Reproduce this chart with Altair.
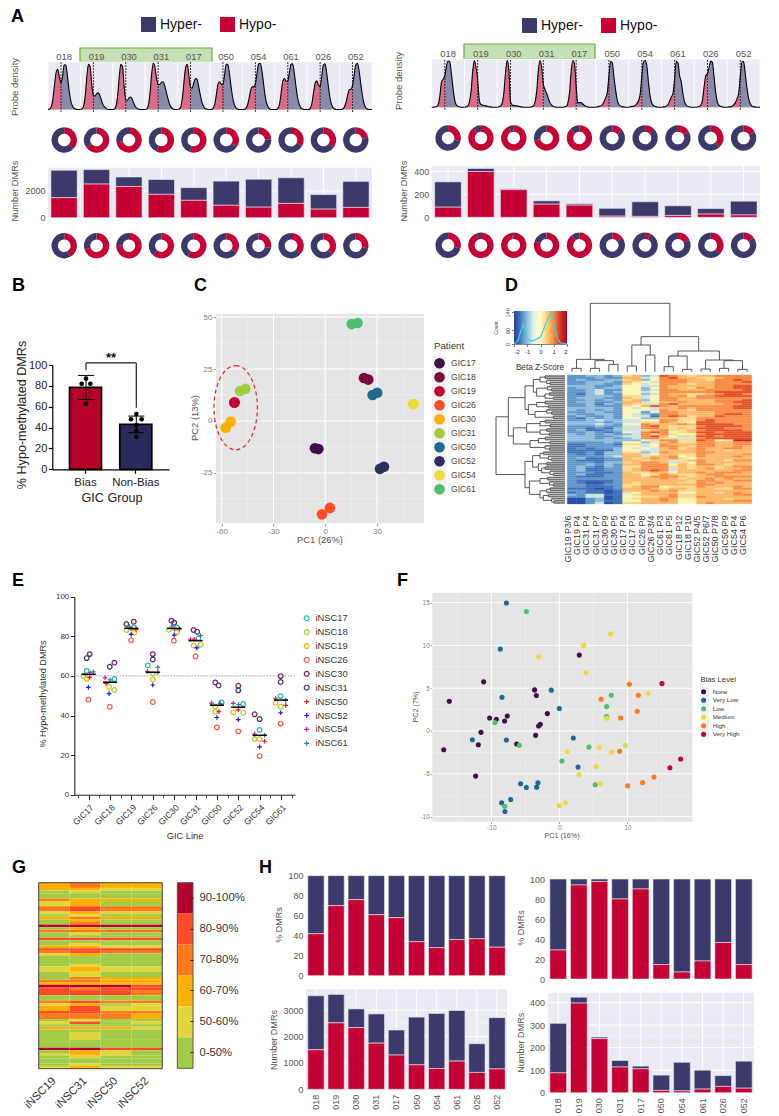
import altair as alt

W, H = 763, 1106
FONT = "Liberation Sans"

# ---------------- data ----------------
LINES = ["018", "019", "030", "031", "017", "050", "054", "061", "026", "052"]
HYPER, HYPO = "Hyper-", "Hypo-"
C_HYPER, C_HYPO = "#3c3a6b", "#c40035"
C_BG = "#eaeaf2"

DENS_L = [
 [0,.01,.06,.22,.52,.8,.87,.7,.58,.72,.97,.96,.72,.42,.2,.08,.03,.01,0,0,0],
 [0,.01,.08,.3,.72,.98,.92,.55,.31,.29,.34,.36,.3,.2,.1,.05,.02,0,0,0,0],
 [0,.01,.08,.3,.72,.98,.93,.5,.2,.2,.25,.27,.22,.13,.06,.02,.01,0,0,0,0],
 [0,.01,.1,.36,.78,1,.92,.68,.54,.54,.59,.6,.52,.38,.24,.12,.05,.02,0,0,0],
 [0,.01,.06,.26,.62,.92,.98,.72,.48,.46,.58,.67,.65,.5,.32,.16,.07,.02,.01,0,0],
 [0,0,.03,.12,.34,.56,.6,.54,.55,.75,.98,.98,.78,.5,.26,.11,.04,.01,0,0,0],
 [0,0,.02,.08,.22,.4,.49,.49,.55,.78,.98,1,.85,.58,.3,.13,.05,.01,0,0,0],
 [0,0,.03,.13,.38,.62,.67,.61,.62,.8,.98,.99,.8,.52,.27,.12,.04,.01,0,0,0],
 [0,0,.03,.15,.38,.58,.62,.52,.5,.72,.96,.99,.8,.52,.27,.11,.04,.01,0,0,0],
 [0,0,.01,.06,.16,.32,.43,.44,.52,.75,.97,1,.84,.58,.32,.14,.05,.01,0,0,0],
]
DENS_R = [
 [0,0,.01,.02,.06,.25,.55,.6,.68,.88,.99,.97,.72,.4,.16,.05,.02,.01,0,0,0],
 [0,.01,.03,.12,.35,.78,1,.85,.6,.15,.06,.05,.04,.03,.02,.01,.01,0,0,0,0],
 [0,.01,.03,.1,.32,.75,1,.8,.12,.05,.04,.03,.03,.02,.01,.01,0,0,0,0,0],
 [0,.01,.03,.12,.35,.8,1,.85,.5,.38,.3,.2,.1,.05,.02,.01,0,0,0,0,0],
 [0,.01,.02,.1,.32,.78,1,.92,.45,.09,.1,.1,.07,.04,.02,.01,0,0,0,0,0],
 [0,.01,.02,.03,.06,.12,.2,.32,.68,.98,.95,.65,.38,.16,.06,.03,.01,.01,0,0,0],
 [0,.01,.02,.02,.04,.08,.14,.28,.66,.97,1,.9,.55,.25,.1,.04,.02,.01,0,0,0],
 [0,.01,.01,.03,.06,.14,.22,.3,.62,.98,.95,.68,.55,.3,.12,.05,.02,.01,0,0,0],
 [0,0,.01,.02,.05,.16,.45,.68,.72,.85,.99,.96,.65,.32,.12,.04,.02,.01,0,0,0],
 [0,.01,.01,.02,.05,.1,.18,.3,.66,.97,.98,.72,.42,.2,.08,.03,.01,.01,0,0,0],
]
DONUT_TOP_L = [.37,.65,.72,.56,.55,.34,.24,.33,.35,.22]
DONUT_TOP_R = [.29,.9,.93,.72,.87,.15,.12,.17,.38,.17]
PCT_HYPO_L = [42,70,76,61,58,34,28,36,37,28.5]
PCT_HYPO_R = [29,94,97.5,80,90,14.5,7,18,36.5,14.5]
TOTAL_L = [3550,3600,3050,2860,2250,2740,2880,2990,1730,2720]
HYPO_L = [1500,2520,2340,1750,1300,930,790,1070,640,770]
TOTAL_R = [308,424,247,143,118,78,135,100,76,140]
HYPO_R = [88,398,240,114,106,10,8,16,28,20]

B_GROUPS = ["Bias", "Non-Bias"]
B_MEANS = [78.5, 43]
B_ERR_LOW = [67, 35]
B_ERR_HIGH = [90, 51]
B_POINT_X = [0, -.086, .086, 0, 1, .894, 1.106, 1, 1, 1]
B_POINT_Y = [87, 82, 82, 63, 53, 48, 48, 42.5, 37, 31]

PATIENTS = ["GIC17","GIC18","GIC19","GIC26","GIC30","GIC31","GIC50","GIC52","GIC54","GIC61"]
PATIENT_COLORS = ["#3f0f45","#7b0a3a","#c3002f","#ff4b26","#ffb000","#a2cc3e","#1c6a8e","#2f2f5f","#eedb3a","#4cc070"]
C_X = [[-6,-4],[22.4,24.9],[-52.7,-52.5],[2.7,-1.9],[-54.8,-57.7],[-49.4,-46.3],[27.4,30.1],[34,31.7],[51,51.2],[15.3,18.7]]
C_Y = [[-13.1,-13.5],[20.7,19.9],[8.8,9],[-41.8,-44.9],[-.3,-3.2],[14.4,15.5],[12.5,13.6],[-22,-23],[8,8.2],[46.6,47.1]]

D_COLS = ["GIC19 P3/6","GIC19 P4","GIC31 P4","GIC31 P7","GIC30 P9","GIC30 P5","GIC17 P4","GIC17 P3","GIC26 P8","GIC26 P3/4",
          "GIC61 P3","GIC61 P5","GIC18 P12","GIC18 P10","GIC52 P4/5","GIC52 P6/7","GIC50 P7/8","GIC50 P9","GIC54 P4","GIC54 P6"]
D_ROWS = """223323 67 34 98 76 77 88 88
222322 77 45 89 77 66 78 88
232233 67 35 88 87 76 88 98
223332 76 54 88 87 77 88 89
223322 65 45 88 76 77 88 88
333223 55 44 87 77 77 88 99
233233 55 35 87 76 87 88 99
223422 55 34 88 77 78 88 89
223423 55 45 88 88 88 99 99
213422 55 34 87 76 67 89 98
223332 66 45 87 86 88 99 99
233322 76 45 88 77 88 88 88
223232 67 35 88 77 77 88 89
233223 77 45 77 87 77 88 99
223132 76 64 89 77 77 78 89
223222 65 79 87 88 88 88 99
333332 54 54 77 87 88 88 99
323232 55 54 87 76 88 88 88
223322 55 25 88 77 77 88 88
322332 54 32 88 77 77 89 98
232232 54 41 89 86 77 98 88
213232 55 33 77 66 88 88 88
223433 44 55 88 66 89 88 88
333323 44 66 87 65 99 88 88
333432 55 87 77 87 99 99 88
222322 44 89 76 66 89 99 98
221213 44 88 76 76 99 98 88
231123 44 67 86 67 89 99 98
223212 54 89 85 67 99 89 99
323232 34 86 86 55 89 99 99
333223 44 89 75 66 99 89 99
333232 34 88 64 44 89 99 99
333333 33 56 88 66 98 56 aa
222232 55 34 78 66 88 77 88
112221 66 45 87 77 88 77 88
112222 55 45 88 76 88 77 87
121223 54 54 78 67 87 78 87
111113 55 44 77 77 87 76 77
112133 66 34 87 77 88 77 77
212133 77 45 77 66 87 77 78
222234 77 67 78 56 87 77 87
231122 76 78 78 65 77 77 77
211122 77 67 74 67 87 76 88
222133 67 88 74 65 87 77 77
223232 77 88 85 76 88 76 77
232132 66 88 86 76 77 67 88
231122 67 88 84 76 78 67 78
231122 67 89 84 77 77 77 88
222112 76 67 75 77 87 88 87
231122 77 56 87 66 78 87 77
211122 77 68 88 76 77 88 88
222222 77 77 87 67 78 78 77
211112 77 77 77 76 88 77 88
210012 76 77 77 66 87 87 77
221122 66 77 77 77 88 77 77
221112 67 88 56 66 87 77 87
111012 77 87 67 76 77 66 88
221101 77 78 78 66 77 77 77
121101 45 77 77 55 77 67 87
324411 56 77 78 66 77 77 88
224401 55 66 78 66 87 77 77
002301 56 77 87 55 77 76 77
002311 55 77 87 55 77 77 88
002401 66 77 77 55 78 77 77""".split("\n")
D_LEVELS = list("0123456789a")
D_COLORS = ["#2c4fa8","#3f72b8","#5f97cb","#8fbbdc","#cfe3e0","#fbf6b5","#fdd98c","#fdb868","#f98d45","#e4502a","#c52a1e"]
D_COL_TREE = [100,
 [268,[295,0,0],[272,[295,0,0],[283,0,0]]],
 [200,[225,[288,0,0],[255,0,0]],
      [243,[258,[290,0,0],[298,0,0]],
           [270,[297,0,0],[272,[295,0,0],[298,0,0]]]]]]
D_ROW_TREE = [18,
 [55,
  [105,
   [130,[150,[165,0,0],[170,0,[180,0,0]]],[140,[172,0,[185,0,0]],[165,[178,0,0],[190,0,0]]]],
   [115,[140,[165,0,0],[175,0,0]],[135,[170,0,[185,0,0]],[190,0,0]]]],
  [70,
   [110,[150,[165,0,0],[180,0,0]],[150,[170,0,0],[178,0,0]]],
   [120,[145,[165,0,0],[180,0,0]],[165,0,[178,0,0]]]]],
 [105,
  [128,
   [150,[160,0,0],[175,0,[185,0,0]]],
   [145,[170,0,0],[155,[165,0,0],[180,0,[190,0,0]]]]],
  [118,
   [150,[172,0,0],[178,0,[190,0,0]]],
   [150,[170,[180,0,0],0],[160,[175,0,0],[185,0,[192,0,0]]]]]]]
HIST_Z = [-2,-1.9,-1.7,-1.5,-1.3,-1.15,-1,-.8,-.5,-.2,0,.2,.4,.6,.8,.95,1.1,1.3,1.5,2]
HIST_N = [0,5,15,55,88,60,30,15,15,25,30,60,90,115,140,110,60,20,5,0]

E_LINES = ["iNSC17","iNSC18","iNSC19","iNSC26","iNSC30","iNSC31","iNSC50","iNSC52","iNSC54","iNSC61"]
E_COLORS = ["#22b5a8","#a6d13e","#f7b500","#f9573c","#8e1b5c","#3d3375","#e8112d","#1a1aee","#d01c8b","#2a7f9e"]
E_VALUES = [
 [62.5,58.4,84.5,65.3,84.5,79,46.6,45.8,32.7,49.8],
 [60,52.9,83.2,61.3,83.3,75.8,41.9,41.4,28,44.4],
 [58.5,54.5,81.8,58.2,82,75.3,44.4,41.6,28,46.5],
 [48,44.4,78,46.8,77.8,69.9,34,32,19.5,35.9],
 [71,66.7,87.4,71,87.9,83.2,56.7,55,40.6,59.9],
 [69,64.6,86.2,68.3,86.9,82.3,55.2,52.7,38.2,56.9],
 [59.3,56.2,83.5,61.8,83.7,78.5,42,42.8,27,45.1],
 [54.2,51,81,55.4,80.6,74.2,39,37.9,24.2,41.4],
 [61.6,59,83.8,62.3,83.8,78.5,46.3,46.1,30.6,48.7],
 [62,58,84.8,64.3,85.2,80.3,46.1,45.5,30,47.6],
]
E_JITTER = [
 [-6,13,8,-15,8,9,14,15,0,-1],
 [-16,13,-15,0,-16,15,-5,15,-15,-1],
 [-6,-3,8,0,8,-6,-5,-15,0,-16],
 [-1,-1,-1,0,-1,0,0,0,0,-1],
 [3,13,7,0,-8,-6,-5,0,-15,-1],
 [-6,-1,-15,0,0,5,5,0,0,-1],
 [3,-12,14,15,16,-4,6,0,15,14],
 [-1,-3,-1,0,0,4,0,0,0,-1],
 [4,-15,-1,-16,0,-15,-16,-15,-15,-16],
 [14,0,-6,15,-7,15,10,1,15,14],
]
E_MEANS = [60.8,56.8,84,61.8,84,77.8,45.2,44.2,30,47.8]

F_LEVELS = ["None","Very Low","Low","Medium","High","Very High"]
F_COLORS = ["#3f0f45","#1c6a8e","#4cc070","#eedb3a","#ff7a1a","#c3002f"]
F_POINTS = {
 "None": [(-17,-2.19),(-16.18,3.48),(-11.13,5.74),(-10.25,1.52),(-9.26,1.37),(-11.52,-.16),(-11.91,-1.6),(-12.3,-5.27),(-6.27,-1.52),(-8.04,1.17),(-7.65,1.76),(-3.63,4.8),(-3.38,4.14),(-1.76,2.03),(-2.79,.78),(-3.04,.59),(-3.48,-.51),(2.94,8.87)],
 "Very Low": [(-7.79,14.96),(-8.68,9.57),(-8.43,3.95),(-12.79,-1.02),(-7.79,-1.05),(-1.18,4.77),(0,2.62),(2.06,-.82),(2.75,-4.22),(-5.69,-6.17),(-4.85,-6.6),(-3.33,-6.56),(-3.14,-6.05),(-7.16,-8),(-8.48,-8.4),(-7.99,-9.41)],
 "Low": [(-4.85,13.95),(-9.46,.98),(-5.88,-1.68),(-8.04,-8.79),(.39,-3.52),(4.36,-1.88),(5.29,-6.29),(6.96,2.85),(6.96,1.68),(7.65,4.18)],
 "Medium": [(7.55,11.33),(3.58,10),(-3.04,8.67),(3.92,6.84),(13.04,4.41),(7.01,1.48),(1.13,-2.42),(5.88,-1.91),(7.7,-2.46),(9.71,-1.68),(5.44,-4.18),(2.89,-5.12),(6.03,-6.13),(.88,-8.4),(0,-8.71)],
 "High": [(10.29,5.47),(11.62,4.18),(6.13,3.71),(11.47,2.3),(9.02,1.52),(8.87,-2.38),(10.05,-6.41),(12.25,-6.02),(13.92,-5.39)],
 "Very High": [(15.1,5.55),(17.84,-3.28),(16.27,-4.3)],
}

G_COLS = ["iNSC19","iNSC31","iNSC50","iNSC52"]
G_BINS = ["90-100%","80-90%","70-80%","60-70%","50-60%","0-50%"]
G_COLORS = ["#b2002d","#ff4b26","#ff7a1a","#ffb000","#e3d63a","#a2cc45"]
G_RUNS = [(2,"2322"),(1,"2211"),(1,"0100"),(2,"0000"),(1,"3222"),(2,"1200"),(2,"3433"),(1,"1211"),(1,"0100"),(1,"2322"),
 (1,"0200"),(1,"0300"),(1,"5555"),(1,"0200"),(1,"3333"),(1,"0100"),(1,"0000"),(1,"4444"),(1,"0000"),(1,"0100"),(1,"2211"),
 (1,"4444"),(1,"3433"),(1,"1200"),(3,"0000"),(1,"0100"),(2,"1211"),(2,"0100"),(1,"0322"),(1,"3322"),(1,"2222"),(1,"5554"),
 (1,"4344"),(2,"4443"),(2,"0000"),(1,"3433"),(1,"1201"),(2,"2411"),(1,"4433"),(2,"3332"),(1,"0100"),(1,"1401"),(1,"0000"),
 (1,"2221"),(1,"0000"),(3,"0100"),(3,"0000"),(1,"5544"),(1,"0210"),(1,"1210"),(1,"0100"),(2,"0000"),(1,"0100"),(1,"1211")]

# ---------------- helpers: all layout given in picture pixels ----------------
layers = []
add = layers.append
PLAIN = "'' + datum.value"   # hyphen-minus and no thousands separator, as in the figure

def Sq(domain, rng):
    return alt.Scale(domain=domain, range=[rng[0] - 8, rng[1] - 8], nice=False, zero=False, clamp=False)

def Sb(domain, rng, inner=0, outer=0):
    return alt.Scale(type="band", domain=domain, range=[rng[0] - 8, rng[1] - 8], paddingInner=inner, paddingOuter=outer)

def ax_left(x, **k):
    return alt.Axis(orient="left", offset=-(x - 8), title=None, grid=False, **k)

def ax_bottom(y, **k):
    return alt.Axis(orient="bottom", offset=(y - 8) - H, title=None, grid=False, **k)

def ax_top(y, **k):
    return alt.Axis(orient="top", offset=-(y - 8), title=None, grid=False, **k)

def ax_right(x, **k):
    return alt.Axis(orient="right", offset=(x - 8) - W, title=None, grid=False, **k)

def values(rows):
    return alt.Data(values=rows)

def text(s, x, y, size=9, color="#444444", angle=0, align="center", baseline="middle", weight="normal"):
    add(alt.Chart(values([{"t": s}])).mark_text(font=FONT, fontSize=size, color=color, angle=angle, align=align,
        baseline=baseline, fontWeight=weight).encode(x=alt.value(x - 8), y=alt.value(y - 8), text="t:N"))

def box(l, r, t, b, **style):
    add(alt.Chart(values([{"a": 0, "b": 1}])).mark_rect(**style).encode(
        x=alt.X("a:Q", scale=Sq([0, 1], [l, r]), axis=None), x2=alt.X2("b"),
        y=alt.Y("a:Q", scale=Sq([0, 1], [b, t]), axis=None), y2=alt.Y2("b")))

def segments(rows, xs, ys, color="black", width=1, dash=None):
    kw = {"strokeDash": dash} if dash else {}
    add(alt.Chart(values(rows)).mark_rule(color=color, strokeWidth=width, **kw).encode(
        x=alt.X("x1:Q", scale=xs, axis=None), x2=alt.X2("x2"),
        y=alt.Y("y1:Q", scale=ys, axis=None), y2=alt.Y2("y2")))

def vlines(ts, lo, hi, xs, ys, **k):
    segments([{"x1": t, "x2": t, "y1": lo, "y2": hi} for t in ts], xs, ys, **k)

def hlines(ts, lo, hi, xs, ys, **k):
    segments([{"x1": lo, "x2": hi, "y1": t, "y2": t} for t in ts], xs, ys, **k)

def x_axis_only(vals, scale, axis, typ="N"):
    add(alt.Chart(values([{"v": v} for v in vals])).mark_point(opacity=0).encode(
        x=alt.X(f"v:{typ}", scale=scale, axis=axis), y=alt.value(0)))

GREY_LABEL = dict(labelColor="#555555", labelFont=FONT, domain=False, ticks=False)

def stacked(totals, hypos, xr, yr, ymax, ax_x=None, ax_y=None):
    rows = []
    for l, t, h in zip(LINES, totals, hypos):
        rows.append({"l": l, "s": HYPER, "a": h, "b": t})
        rows.append({"l": l, "s": HYPO, "a": 0, "b": h})
    add(alt.Chart(values(rows)).mark_bar(stroke=C_BG, strokeWidth=.6).encode(
        x=alt.X("l:N", sort=LINES, scale=Sb(LINES, xr, .19, .09), axis=ax_x),
        y=alt.Y("a:Q", scale=Sq([0, ymax], yr), axis=ax_y), y2=alt.Y2("b"),
        color=alt.Color("s:N", scale=alt.Scale(domain=[HYPER, HYPO], range=[C_HYPER, C_HYPO]), legend=None)))

def donuts(fracs, xr, y, legend=None):
    rows = []
    for i, f in enumerate(fracs):
        rows.append({"i": i + .5, "s": HYPO, "a": 0, "b": f})
        rows.append({"i": i + .5, "s": HYPER, "a": f, "b": 1})
    add(alt.Chart(values(rows)).mark_arc(innerRadius=6.3, outerRadius=12.7).encode(
        x=alt.X("i:Q", stack=False, scale=Sq([0, 10], xr), axis=None), y=alt.value(y - 8),
        theta=alt.Theta("a:Q", stack=False, scale=alt.Scale(domain=[0, 1], range=[0, 6.28319])), theta2=alt.Theta2("b"),
        color=alt.Color("s:N", title=None, scale=alt.Scale(domain=[HYPER, HYPO], range=[C_HYPER, C_HYPO]), legend=legend)))

def density(curves, xr, yr):
    xs, ys = Sq([0, 10], xr), Sq([0, 1], yr)
    rows_bg = [{"x1": i, "x2": i + 1, "y1": -.02, "y2": 1.03} for i in range(10)]
    add(alt.Chart(values(rows_bg)).mark_rect(fill=C_BG, stroke="white", strokeWidth=.8).encode(
        x=alt.X("x1:Q", scale=xs, axis=None), x2=alt.X2("x2"),
        y=alt.Y("y1:Q", scale=ys, axis=None), y2=alt.Y2("y2")))
    area, line = [], []
    for i, c in enumerate(curves):
        for j, v in enumerate(c):
            f = j * .05
            line.append({"x": i + f, "y": v, "k": i})
            if j <= 8:
                area.append({"x": i + f, "y": v, "b": 0, "k": f"{i}a", "s": HYPO})
            if j >= 8:
                area.append({"x": i + f, "y": v, "b": 0, "k": f"{i}b", "s": HYPER})
    add(alt.Chart(values(area)).mark_area(interpolate="monotone").encode(
        x=alt.X("x:Q", scale=xs, axis=None), y=alt.Y("y:Q", scale=ys, axis=None), y2=alt.Y2("b"), detail="k:N",
        color=alt.Color("s:N", scale=alt.Scale(domain=[HYPER, HYPO], range=["#8a8aab", "#dd6a8b"]), legend=None)))
    vlines([i + .4 for i in range(10)], -.05, 1.03, xs, ys, color="black", width=1, dash=[1.5, 1.5])
    add(alt.Chart(values(line)).mark_line(interpolate="monotone", color="black", strokeWidth=1.1).encode(
        x=alt.X("x:Q", scale=xs, axis=None), y=alt.Y("y:Q", scale=ys, axis=None), detail="k:N"))

def tree_segments(node, base, counter, inner, leaves):
    if node == 0:
        p = counter[0] + .5
        counter[0] += 1
        return p, base, True
    h, a, b = node
    pa, ha, la = tree_segments(a, base, counter, inner, leaves)
    pb, hb, lb = tree_segments(b, base, counter, inner, leaves)
    (leaves if la else inner).append((pa, ha, pa, h))
    (leaves if lb else inner).append((pb, hb, pb, h))
    inner.append((pa, h, pb, h))
    return (pa + pb) / 2, h, False

# ---------------- letters ----------------
for s, x, y in [("A", 11, 22), ("B", 12, 291), ("C", 194, 291), ("D", 505, 291), ("E", 12, 586), ("F", 397, 586), ("G", 12, 873), ("H", 259, 873)]:
    text(s, x, y, size=18, color="black", align="left", baseline="alphabetic", weight="bold")

# ---------------- panel A ----------------
for (xr, yr, top_y, box_l, box_r, box_t, box_b, title_x, title_y, curves, dtop, fr1, d1y, d2y,
     bar_yr, ymax, tot, hyp, ticks, grid_y, ntitle_x, ntitle_y, lx, ly, cp) in [
    ([48, 372], [109.5, 63.3], 62, 80, 212, 48, 62, 15, 87, DENS_L, DONUT_TOP_L, PCT_HYPO_L, 140, 245.7,
     [217.7, 167.7], 3745, TOTAL_L, HYPO_L, [0, 2000], [2000], 15, 191, 141, 17, 17),
    ([431.7, 760], [107.3, 60.5], 59, 464, 595, 44, 59, 399, 81, DENS_R, DONUT_TOP_R, PCT_HYPO_R, 138, 245.3,
     [217.3, 166], 446, TOTAL_R, HYPO_R, [0, 200, 400], [200, 400], 404, 191, 522, 18, 17),
]:
    box(box_l, box_r, box_t, box_b, fill="#c5e0b4", stroke="#70ad47", strokeWidth=1.2)
    density(curves, xr, yr)
    x_axis_only(LINES, Sb(LINES, xr), ax_top(top_y, labelFontSize=9.4, labelPadding=1, labelAngle=0, zindex=1, **GREY_LABEL))
    text("Probe density", title_x, title_y, size=9.5, color="#555555", angle=270)
    leg = alt.Legend(orient="none", legendX=lx - 8, legendY=ly - 8, direction="horizontal", columns=2, title=None,
                     symbolType="square", symbolSize=225, symbolStrokeWidth=0, labelFontSize=14, labelFont=FONT,
                     labelColor="#111111", labelOffset=4, columnPadding=cp)
    donuts(dtop, xr, d1y, legend=leg)
    xs = Sq([0, 10], xr)
    ys = Sq([0, ymax], bar_yr)
    box(xr[0], xr[1], bar_yr[1], bar_yr[0], fill=C_BG)
    vlines([i + .5 for i in range(10)], 0, ymax, xs, ys, color="white", width=1)
    hlines(grid_y, 0, 10, xs, ys, color="white", width=1)
    stacked(tot, hyp, xr, bar_yr, ymax, ax_y=ax_left(xr[0] - 2, values=ticks, labelFontSize=9, labelPadding=1, labelExpr=PLAIN, **GREY_LABEL))
    text("Number DMRs", ntitle_x, ntitle_y, size=9.2, color="#555555", angle=270)
    donuts([v / 100 for v in fr1], xr, d2y)

# ---------------- panel B ----------------
Bx = Sb(B_GROUPS, [52.3, 169], .364, .342)
By = Sq([0, 100], [469.3, 365])
Bq = Sq([-.67, 1.65], [52.3, 169])
add(alt.Chart(values([{"g": g, "v": v} for g, v in zip(B_GROUPS, B_MEANS)])).mark_bar(stroke="black", strokeWidth=1.7).encode(
    x=alt.X("g:N", sort=B_GROUPS, scale=Bx, axis=ax_bottom(469.3, labelFontSize=11.5, labelColor="#222222", labelAngle=0,
        labelPadding=3, tickSize=4, tickColor="black", domainColor="black", domainWidth=1.2, tickWidth=1.2)),
    y=alt.Y("v:Q", scale=By, axis=ax_left(52.3, values=[0, 20, 40, 60, 80, 100], labelFontSize=11, labelColor="#222222",
        labelPadding=1.5, tickSize=4, tickColor="black", domainColor="black", domainWidth=1.2, tickWidth=1.2)),
    color=alt.Color("g:N", scale=alt.Scale(domain=B_GROUPS, range=["#b5002a", "#2b2b5b"]), legend=None)))
err = []
for i in range(2):
    err.append({"x1": i, "x2": i, "y1": B_ERR_LOW[i], "y2": B_ERR_HIGH[i]})
    err.append({"x1": i - .16, "x2": i + .16, "y1": B_ERR_LOW[i], "y2": B_ERR_LOW[i]})
    err.append({"x1": i - .16, "x2": i + .16, "y1": B_ERR_HIGH[i], "y2": B_ERR_HIGH[i]})
segments(err, Bq, By, color="black", width=1)
segments([{"x1": 0, "x2": 0, "y1": 95, "y2": 102}, {"x1": 0, "x2": 1, "y1": 102, "y2": 102}, {"x1": 1, "x2": 1, "y1": 59, "y2": 102}], Bq, By, color="#222222", width=1.2)
add(alt.Chart(values([{"x": x, "y": y} for x, y in zip(B_POINT_X, B_POINT_Y)])).mark_circle(size=22, color="black", opacity=1).encode(
    x=alt.X("x:Q", scale=Bq, axis=None), y=alt.Y("y:Q", scale=By, axis=None)))
text("**", 111, 358, size=13, color="#111111", weight="bold")
text("% Hypo-methylated DMRs", 22, 415, size=12.6, color="#222222", angle=270)
text("GIC Group", 112, 498, size=12.6, color="#222222")

# ---------------- panel C ----------------
Cx = Sq([-63.3, 57.2], [216, 424])
Cy = Sq([-49.2, 51.6], [523.3, 313.7])
box(216, 424, 313.7, 523.3, fill="#e5e5e5")
vlines([-45, -15, 15, 45], -49.2, 51.6, Cx, Cy, color="#f2f2f2", width=.6)
hlines([37.5, 12.5, -12.5, -37.5], -63.3, 57.2, Cx, Cy, color="#f2f2f2", width=.6)
vlines([-60, -30, 0, 30], -49.2, 51.6, Cx, Cy, color="white", width=1.1)
hlines([50, 25, 0, -25], -63.3, 57.2, Cx, Cy, color="white", width=1.1)
box(432, 446, 356, 496, fill="#f2f2f2")
c_rows = [{"p": p, "x": x, "y": y} for p, xs_, ys_ in zip(PATIENTS, C_X, C_Y) for x, y in zip(xs_, ys_)]
tick_style = dict(labelColor="#7f7f7f", domain=False, tickColor="#7f7f7f", tickSize=2.5, tickWidth=.8, labelPadding=1.5, labelExpr=PLAIN)
add(alt.Chart(values(c_rows)).mark_circle(size=113, opacity=1).encode(
    x=alt.X("x:Q", scale=Cx, axis=ax_bottom(523.3, values=[-60, -30, 0, 30], labelFontSize=8, **tick_style)),
    y=alt.Y("y:Q", scale=Cy, axis=ax_left(216, values=[-25, 0, 25, 50], labelFontSize=8, **tick_style)),
    color=alt.Color("p:N", title="Patient", scale=alt.Scale(domain=PATIENTS, range=PATIENT_COLORS),
        legend=alt.Legend(orient="none", legendX=434 - 8, legendY=341 - 8, title="Patient", titleFontSize=9.7, titleFontWeight="normal",
            titleFont=FONT, titleColor="#333333", titlePadding=7, labelFont=FONT, labelFontSize=8.6, labelColor="#444444", symbolSize=113, symbolStrokeWidth=0,
            rowPadding=3, labelOffset=6, symbolType="circle"))))
ELLIPSE = "M0,-1.94A1,1.94 0 1 1 0,1.94A1,1.94 0 1 1 0,-1.94Z"
add(alt.Chart(values([{"x": -51.9, "y": 6.4}])).mark_point(shape=ELLIPSE, size=1884, filled=False, opacity=1, color="#e8232a",
    strokeWidth=1.2, strokeDash=[4, 3]).encode(x=alt.X("x:Q", scale=Cx, axis=None), y=alt.Y("y:Q", scale=Cy, axis=None)))
text("PC1 (26%)", 320, 540, size=9.4, color="#555555")
text("PC2 (13%)", 195, 418, size=9.4, color="#555555", angle=270)

# ---------------- panel D ----------------
Dx_band = Sb(D_COLS, [567.3, 751.7])
rows_idx = list(range(len(D_ROWS)))
Dy_band = Sb(rows_idx, [375, 504])
heat = []
for r, line in enumerate(D_ROWS):
    for c, ch in zip(D_COLS, line.replace(" ", "")):
        heat.append({"c": c, "r": r, "z": ch})
zscale = alt.Scale(domain=D_LEVELS, range=D_COLORS)
add(alt.Chart(values(heat)).mark_rect(strokeWidth=.3).encode(
    x=alt.X("c:N", sort=D_COLS, scale=Dx_band, axis=ax_bottom(504, labelAngle=-90, labelAlign="right", labelBaseline="middle",
        labelFontSize=9, labelPadding=11, labelOffset=-4, labelColor="#333333", domain=False, ticks=False)),
    y=alt.Y("r:O", scale=Dy_band, axis=None),
    color=alt.Color("z:N", scale=zscale, legend=None),
    stroke=alt.Stroke("z:N", scale=zscale, legend=None)))
inner, leaves = [], []
tree_segments(D_COL_TREE, 305, [0], inner, leaves)
Dcx = Sq([0, 20], [567.3, 751.7])
Dcy = Sq([100, 305], [303.3, 371.7])
segments([{"x1": a, "y1": b, "x2": c, "y2": d} for a, b, c, d in inner + leaves], Dcx, Dcy, color="#444444", width=.9)
inner, leaves = [], []
cnt = [0]
tree_segments(D_ROW_TREE, 225, cnt, inner, leaves)
Drx = Sq([18, 225], [496, 565])
Dry = Sq([0, cnt[0]], [375, 504])
segments([{"x1": b, "y1": a, "x2": d, "y2": c} for a, b, c, d in leaves], Drx, Dry, color="#757575", width=1.7)
segments([{"x1": b, "y1": a, "x2": d, "y2": c} for a, b, c, d in inner], Drx, Dry, color="#444444", width=.9)
Kx = Sq([-2, 2], [514, 567])
Ky = Sq([0, 140], [344, 312.3])
GRAD = alt.LinearGradient(gradient="linear", x1=0, x2=1, y1=0, y2=0, stops=[
    alt.GradientStop(offset=0, color="#2c3f95"), alt.GradientStop(offset=.1, color="#3a6fb4"),
    alt.GradientStop(offset=.25, color="#8fc0dc"), alt.GradientStop(offset=.38, color="#e7f3ef"),
    alt.GradientStop(offset=.5, color="#fffdc0"), alt.GradientStop(offset=.62, color="#fed07b"),
    alt.GradientStop(offset=.75, color="#f78b45"), alt.GradientStop(offset=.88, color="#d73027"),
    alt.GradientStop(offset=1, color="#9e0a26")])
box(514, 567, 311, 344, color=GRAD)
key_ticks = dict(labelColor="#333333", domain=True, domainColor="#333333", domainWidth=.6, tickColor="#333333", tickSize=2.5, tickWidth=.6, labelPadding=1.5, labelExpr=PLAIN)
add(alt.Chart(values([{"z": z, "n": n} for z, n in zip(HIST_Z, HIST_N)])).mark_line(color="#35d6e0", strokeWidth=1.2).encode(
    x=alt.X("z:Q", scale=Kx, axis=ax_bottom(344, values=[-2, -1, 0, 1, 2], labelFontSize=6, labelAngle=0, **key_ticks)),
    y=alt.Y("n:Q", scale=Ky, axis=ax_left(514, values=[0, 60, 140], labelFontSize=5.5, labelAngle=-90, labelAlign="center", labelBaseline="bottom", **key_ticks))))
text("Count", 496, 328, size=5, color="#444444", angle=270)
text("Beta Z-Score", 540, 368, size=8.2, color="#333333")

# ---------------- panel E ----------------
Ex = Sq([-.674, 9.655], [74.3, 295])
Ey = Sq([0, 100], [794.7, 596.7])
names = "['" + "','".join(PATIENTS) + "'][datum.value]"
hlines([60], -.674, 9.655, Ex, Ey, color="#9a9a9a", width=.8, dash=[2, 1])
e_rows = []
for ln, vals, jit in zip(E_LINES, E_VALUES, E_JITTER):
    for i, (v, j) in enumerate(zip(vals, jit)):
        e_rows.append({"l": ln, "x": i + j / 64, "v": v})
black_axis = dict(domainColor="#222222", domainWidth=1.1, tickColor="#222222", tickWidth=1, labelColor="#333333")
PLUS = "M-1,0L1,0M0,-1L0,1"
e_leg = alt.Legend(orient="none", legendX=302 - 8, legendY=613.5 - 8, title=None, labelFont=FONT, labelFontSize=9.4, labelColor="#333333",
                   symbolSize=24, symbolStrokeWidth=1.2, rowPadding=2.9, labelOffset=4, symbolFillColor="transparent")
add(alt.Chart(values(e_rows)).mark_point(filled=False, size=22, opacity=1, strokeWidth=1.2).encode(
    x=alt.X("x:Q", scale=Ex, axis=ax_bottom(794.7, values=list(range(10)), labelExpr=names, labelAngle=-45, labelAlign="right",
        labelBaseline="top", labelFontSize=8.6, labelPadding=3, tickSize=5, labelOverlap=False, **black_axis)),
    y=alt.Y("v:Q", scale=Ey, axis=ax_left(74.3, values=[0, 20, 40, 60, 80, 100], labelFontSize=8, labelPadding=1.5, tickSize=4, **black_axis)),
    color=alt.Color("l:N", title=None, scale=alt.Scale(domain=E_LINES, range=E_COLORS), legend=e_leg),
    shape=alt.Shape("l:N", title=None, scale=alt.Scale(domain=E_LINES, range=["circle"] * 6 + [PLUS] * 4), legend=e_leg)))
x_axis_only([i + .5 for i in range(-1, 10)], Ex, ax_bottom(794.7, values=[i + .5 for i in range(-1, 10)],
    labels=False, domain=False, tickSize=3, tickColor="#222222", tickWidth=.8), typ="Q")
segments([{"x1": i - .33, "x2": i + .33, "y1": m, "y2": m} for i, m in enumerate(E_MEANS)], Ex, Ey, color="black", width=1.5)
text("% Hypo-methylated DMRs", 43, 694, size=9.1, color="#333333", angle=270)
text("GIC Line", 185, 836, size=9.3, color="#333333")

# ---------------- panel F ----------------
Fx = Sq([-18.68, 19.56], [432.3, 692.3])
Fy = Sq([-10.6, 16.16], [821.7, 592.7])
box(432.3, 692.3, 592.7, 821.7, fill="#e5e5e5")
vlines([-15, -5, 5, 15], -10.6, 16.16, Fx, Fy, color="#f2f2f2", width=.6)
hlines([12.5, 7.5, 2.5, -2.5, -7.5], -18.68, 19.56, Fx, Fy, color="#f2f2f2", width=.6)
vlines([-10, 0, 10], -10.6, 16.16, Fx, Fy, color="white", width=1)
hlines([15, 10, 5, 0, -5, -10], -18.68, 19.56, Fx, Fy, color="white", width=1)
box(700.5, 709, 687, 739, fill="#f2f2f2")
f_rows = [{"l": l, "x": x, "y": y} for l, pts in F_POINTS.items() for x, y in pts]
f_ticks = dict(labelColor="#7f7f7f", domain=False, tickColor="#7f7f7f", tickSize=2, tickWidth=.7, labelPadding=1, labelExpr=PLAIN)
add(alt.Chart(values(f_rows)).mark_circle(size=26, opacity=1).encode(
    x=alt.X("x:Q", scale=Fx, axis=ax_bottom(821.7, values=[-10, 0, 10], labelFontSize=6.5, **f_ticks)),
    y=alt.Y("y:Q", scale=Fy, axis=ax_left(432.3, values=[-10, -5, 0, 5, 10, 15], labelFontSize=6.5, **f_ticks)),
    color=alt.Color("l:N", title="Bias Level", scale=alt.Scale(domain=F_LEVELS, range=F_COLORS),
        legend=alt.Legend(orient="none", legendX=700.5 - 8, legendY=676 - 8, title="Bias Level", titleFont=FONT, titleFontSize=7.7,
            titleFontWeight="normal", titleColor="#333333", titlePadding=5, labelFont=FONT, labelFontSize=6.2, labelColor="#333333",
            symbolSize=26, symbolStrokeWidth=0, symbolType="circle", rowPadding=1.5, labelOffset=6))))
text("PC1 (16%)", 562, 835.5, size=7.2, color="#555555")
text("PC2 (7%)", 415.7, 707, size=7.2, color="#555555", angle=270)

# ---------------- panel G ----------------
g_rows = []
pos = 0
for n, codes in G_RUNS:
    for col, ch in zip(G_COLS, codes):
        g_rows.append({"c": col, "a": pos, "b": pos + n, "k": G_BINS[5 - int(ch)]})
    pos += n
gscale = alt.Scale(domain=G_BINS, range=G_COLORS)
add(alt.Chart(values(g_rows)).mark_rect().encode(
    x=alt.X("c:N", sort=G_COLS, scale=Sb(G_COLS, [38.7, 162.3]), axis=ax_bottom(1068.7, labelAngle=-45, labelAlign="right", labelBaseline="top",
        labelFontSize=11.3, labelPadding=6, labelColor="#333333", domain=False, ticks=False, labelOffset=-4, labelOverlap=False)),
    y=alt.Y("a:Q", scale=Sq([0, pos], [882.7, 1068.7]), axis=None), y2=alt.Y2("b"),
    color=alt.Color("k:N", scale=gscale, legend=None)))
box(38.7, 162.3, 882.7, 1068.7, fillOpacity=0, stroke="#444444", strokeWidth=1)
add(alt.Chart(values([{"k": k, "a": 0, "b": 1} for k in G_BINS])).mark_rect().encode(
    x=alt.X("a:Q", scale=Sq([0, 1], [177.3, 193]), axis=None), x2=alt.X2("b"),
    y=alt.Y("k:N", sort=G_BINS, scale=Sb(G_BINS, [882.7, 1068.3]),
            axis=ax_right(190, labelFontSize=11.3, labelColor="#333333", labelPadding=6, tickSize=3, tickColor="#222222", tickWidth=1, domain=False, zindex=1)),
    color=alt.Color("k:N", scale=gscale, legend=None)))
box(177.3, 193, 882.7, 1068.3, fillOpacity=0, stroke="#555555", strokeWidth=1)

# ---------------- panel H ----------------
H_L, H_R = [306, 507], [548, 754]
num_axis = dict(labelFontSize=9, labelPadding=1, labelExpr=PLAIN, **GREY_LABEL)
stacked([100] * 10, PCT_HYPO_L, H_L, [975.7, 875.7], 100,
        ax_y=ax_left(304, values=[0, 20, 40, 60, 80, 100], **num_axis))
text("% DMRs", 279, 925, size=9, color="#555555", angle=270)
stacked([100] * 10, PCT_HYPO_R, H_R, [979, 879], 100,
        ax_y=ax_left(545.5, values=[0, 20, 40, 60, 80, 100], **num_axis))
text("% DMRs", 521, 928, size=9, color="#555555", angle=270)

xq = Sq([0, 10], H_L)
yq = Sq([0, 3795], [1089.3, 989.3])
box(H_L[0], H_L[1], 989.3, 1089.3, fill=C_BG)
vlines([i + .5 for i in range(10)], 0, 3795, xq, yq, color="white", width=1)
hlines([500, 1500, 2500, 3500], 0, 10, xq, yq, color="#f4f4f8", width=.5)
hlines([1000, 2000, 3000], 0, 10, xq, yq, color="white", width=1)
stacked(TOTAL_L, HYPO_L, H_L, [1089.3, 989.3], 3795,
        ax_y=ax_left(304, values=[0, 1000, 2000, 3000], **num_axis),
        ax_x=ax_bottom(1089.3, labelAngle=-90, labelAlign="right", labelBaseline="middle", labelFontSize=9, labelPadding=5, **GREY_LABEL))
text("Number DMRs", 274, 1040, size=9.1, color="#555555", angle=270)

xq = Sq([0, 10], H_R)
yq = Sq([0, 444], [1092.7, 992.7])
box(H_R[0], H_R[1], 992.7, 1092.7, fill=C_BG)
vlines([i + .5 for i in range(10)], 0, 444, xq, yq, color="white", width=1)
hlines([50, 150, 250, 350], 0, 10, xq, yq, color="#f4f4f8", width=.5)
hlines([100, 200, 300, 400], 0, 10, xq, yq, color="white", width=1)
stacked(TOTAL_R, HYPO_R, H_R, [1092.7, 992.7], 444,
        ax_y=ax_left(545.5, values=[0, 100, 200, 300, 400], **num_axis),
        ax_x=ax_bottom(1092.7, labelAngle=-90, labelAlign="right", labelBaseline="middle", labelFontSize=9, labelPadding=5, **GREY_LABEL))
text("Number DMRs", 521, 1042.7, size=9.1, color="#555555", angle=270)

chart = (alt.layer(*layers)
         .resolve_scale(x="independent", y="independent", color="independent", shape="independent", stroke="independent", theta="independent")
         .properties(width=W, height=H, padding=0, autosize=alt.AutoSizeParams(type="none"), background="white")
         .configure_view(stroke=None)
         .configure_axis(labelFont=FONT, titleFont=FONT, grid=False))

chart.save("out.html", embed_options={"renderer": "svg", "actions": False})
